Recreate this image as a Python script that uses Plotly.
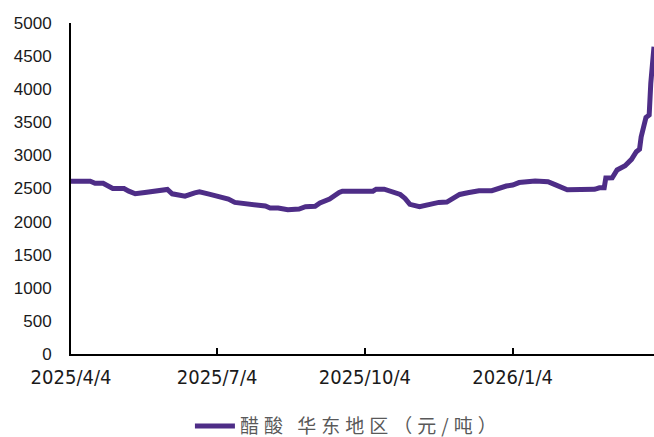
import plotly.graph_objects as go

dates = [
    "2025-04-04", "2025-04-16", "2025-04-19", "2025-04-24", "2025-04-30", "2025-05-07",
    "2025-05-10", "2025-05-14", "2025-05-20", "2025-05-26", "2025-05-29", "2025-06-03",
    "2025-06-06", "2025-06-14", "2025-06-20", "2025-06-23", "2025-06-29", "2025-07-07",
    "2025-07-11", "2025-07-15", "2025-07-21", "2025-07-27", "2025-07-31", "2025-08-03",
    "2025-08-06", "2025-08-11", "2025-08-17", "2025-08-24", "2025-08-28", "2025-09-03",
    "2025-09-06", "2025-09-12", "2025-09-18", "2025-09-20", "2025-10-09", "2025-10-11",
    "2025-10-16", "2025-10-19", "2025-10-26", "2025-10-29", "2025-11-01", "2025-11-07",
    "2025-11-13", "2025-11-19", "2025-11-24", "2025-11-29", "2025-12-02", "2025-12-07",
    "2025-12-11", "2025-12-14", "2025-12-22", "2025-12-27", "2025-12-31", "2026-01-04",
    "2026-01-08", "2026-01-18", "2026-01-26", "2026-01-30", "2026-02-04", "2026-02-07",
    "2026-02-24", "2026-02-27", "2026-03-02", "2026-03-03", "2026-03-07", "2026-03-10",
    "2026-03-15", "2026-03-19", "2026-03-22", "2026-03-24", "2026-03-25", "2026-03-28",
    "2026-03-30", "2026-03-31", "2026-04-02",
]
prices = [
    2610, 2610, 2580, 2580, 2500, 2500,
    2460, 2420, 2440, 2460, 2485, 2485,
    2420, 2385, 2435, 2450, 2415, 2360,
    2340, 2290, 2270, 2265, 2240, 2235,
    2205, 2205, 2180, 2190, 2225, 2230,
    2280, 2340, 2440, 2460, 2460, 2490,
    2490, 2460, 2410, 2350, 2260, 2225,
    2265, 2290, 2295, 2375, 2410, 2435,
    2450, 2466, 2466, 2510, 2537, 2553,
    2590, 2612, 2602, 2562, 2510, 2480,
    2487, 2510, 2510, 2660, 2662, 2780,
    2843, 2940, 3055, 3095, 3280, 3574,
    3610, 4090, 4640,
]
series_name = "醋酸 华东地区（元/吨）"
x_tickvals = ["2025-04-04", "2025-07-04", "2025-10-04", "2026-01-04"]
x_ticktext = ["2025/4/4", "2025/7/4", "2025/10/4", "2026/1/4"]
y_tickvals = [0, 500, 1000, 1500, 2000, 2500, 3000, 3500, 4000, 4500, 5000]

fig = go.Figure()
fig.add_trace(go.Scatter(
    x=dates, y=prices, mode="lines",
    name='<span style="letter-spacing:5px">' + series_name + "</span>",
    line=dict(color="#4e2d87", width=5),
))

fig.update_layout(
    width=654, height=437,
    margin=dict(l=71, r=0, t=23, b=83, autoexpand=False),
    paper_bgcolor="white", plot_bgcolor="white",
    showlegend=True,
    legend=dict(
        orientation="h", yref="container", x=0.204, xanchor="left",
        y=0.025, yanchor="middle",
        font=dict(family="Noto Sans CJK SC", size=19, color="#595959"),
        itemwidth=40,
    ),
    xaxis=dict(
        type="date", range=["2025-04-04", "2026-04-02"],
        tickvals=x_tickvals, ticktext=x_ticktext,
        showgrid=False, zeroline=False,
        showline=True, linecolor="black", linewidth=2,
        ticks="inside", ticklen=6, tickcolor="black", tickwidth=1.5,
        tickfont=dict(family="DejaVu Sans Condensed", size=20, color="#1a1a1a"),
        ticklabelstandoff=4,
    ),
    yaxis=dict(
        range=[0, 5000], tickvals=y_tickvals,
        showgrid=False, zeroline=False,
        showline=True, linecolor="black", linewidth=2,
        ticks="", ticklabelstandoff=14,
        tickfont=dict(family="Liberation Sans", size=17, color="#1a1a1a"),
    ),
)

fig.write_html("out.html", config={"displayModeBar": False},
               post_script="document.body.style.margin='0';")
